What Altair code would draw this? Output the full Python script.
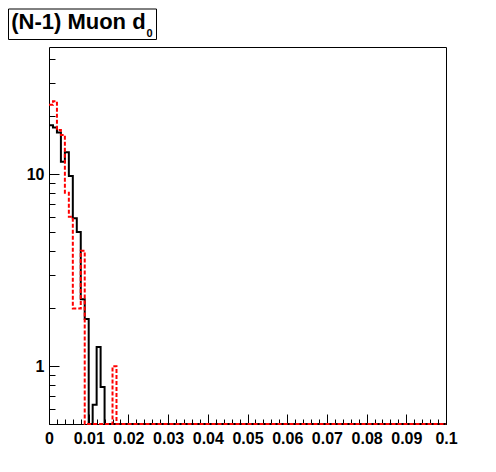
import altair as alt
import pandas as pd

# ---- data ----
bin_edges = [round(i * 0.001, 3) for i in range(101)]   # 100 bins of width 0.001 on [0, 0.1]
black_counts = [18.0, 17.5, 16.5, 11.6, 13.0, 9.8, 5.9, 5.0, 2.23, 1.76,
                0.0, 0.63, 1.26, 0.78] + [0.0] * 86
red_counts = [23, 24, 17, 16, 8, 6, 2, 2, 4, 0,
              0, 0, 0, 0, 0, 0, 1] + [0] * 83

x_major = [0, 0.01, 0.02, 0.03, 0.04, 0.05, 0.06, 0.07, 0.08, 0.09, 0.1]
x_minor = [round(i * 0.002, 3) for i in range(51)]
y_major = [1, 10]
y_minor = [0.6, 0.7, 0.8, 0.9, 2, 3, 4, 5, 6, 7, 8, 9, 20, 30, 40]

W, H = 397, 377
FONT = "Liberation Sans"

def hist_frame(counts, name):
    return pd.DataFrame({
        "x": bin_edges,
        "v": list(counts) + [counts[-1]],
        "series": name,
    })

black_df = hist_frame(black_counts, "black")
red_df = hist_frame(red_counts, "red")

xscale = alt.Scale(domain=[0, 0.1], nice=False, zero=False)
yscale = alt.Scale(type="log", domain=[0.5, 46], nice=False)

def enc(chart, xaxis, yaxis):
    return chart.transform_calculate(
        yv="max(datum.v, 0.5)"
    ).encode(
        x=alt.X("x:Q", scale=xscale, axis=xaxis, title=None),
        y=alt.Y("yv:Q", scale=yscale, axis=yaxis, title=None),
    )

label_common = dict(labelFont=FONT, labelFontWeight="bold", labelFontSize=16,
                    labelColor="black", domain=False, grid=False)

x_labels = alt.Axis(values=x_major, format="~g", ticks=False, tickSize=0,
                    labelPadding=6, labelFlush=False, labelOverlap=False,
                    labelBound=False, orient="bottom", **label_common)
y_labels = alt.Axis(values=y_major, format="~g", ticks=False, tickSize=0,
                    labelPadding=5, orient="left", **label_common)

x_major_ticks = alt.Axis(values=x_major, labels=False, orient="top", offset=-H,
                         tickSize=10, tickColor="black", tickWidth=1,
                         domain=False, grid=False)
y_major_ticks = alt.Axis(values=y_major, labels=False, orient="right", offset=-W,
                         tickSize=10, tickColor="black", tickWidth=1,
                         domain=False, grid=False)
x_minor_ticks = alt.Axis(values=x_minor, labels=False, orient="top", offset=-H,
                         tickSize=5, tickColor="black", tickWidth=1,
                         domain=False, grid=False)
y_minor_ticks = alt.Axis(values=y_minor, labels=False, orient="right", offset=-W,
                         tickSize=6, tickColor="black", tickWidth=1,
                         domain=False, grid=False)

black_line = enc(
    alt.Chart(black_df).mark_line(interpolate="step-after", color="black",
                                  strokeWidth=2),
    x_labels, y_labels)

red_line = enc(
    alt.Chart(red_df).mark_line(interpolate="step-after", color="#ff0000",
                                strokeWidth=2, strokeDash=[4, 2]),
    x_major_ticks, y_major_ticks)

minor_layer = enc(
    alt.Chart(red_df).mark_line(opacity=0),
    x_minor_ticks, y_minor_ticks)

# title box
box_df = pd.DataFrame({"t": ["(N-1) Muon d"], "s": ["0"]})
title_box = alt.Chart(box_df).mark_rect(fill="white", stroke="black",
                                        strokeWidth=1).encode(
    x=alt.value(-40.5), x2=alt.value(107.5),
    y=alt.value(-38), y2=alt.value(-7.5))
title_text = alt.Chart(box_df).mark_text(
    font=FONT, fontWeight="bold", fontSize=22, align="left",
    baseline="alphabetic", color="black").encode(
    text="t:N", x=alt.value(-37.8), y=alt.value(-18.2))
title_sub = alt.Chart(box_df).mark_text(
    font=FONT, fontWeight="bold", fontSize=11, align="left",
    baseline="alphabetic", color="black").encode(
    text="s:N", x=alt.value(97.6), y=alt.value(-10))

chart = alt.layer(
    black_line, minor_layer, red_line, title_box, title_text, title_sub
).resolve_axis(
    x="independent", y="independent"
).properties(
    width=W, height=H,
    autosize=alt.AutoSizeParams(type="none"),
    padding={"left": 41, "top": 39, "right": 40, "bottom": 40},
    background="white",
).configure_view(stroke="black", strokeWidth=1)

chart.save("out.html", embed_options={"renderer": "svg", "actions": False})
